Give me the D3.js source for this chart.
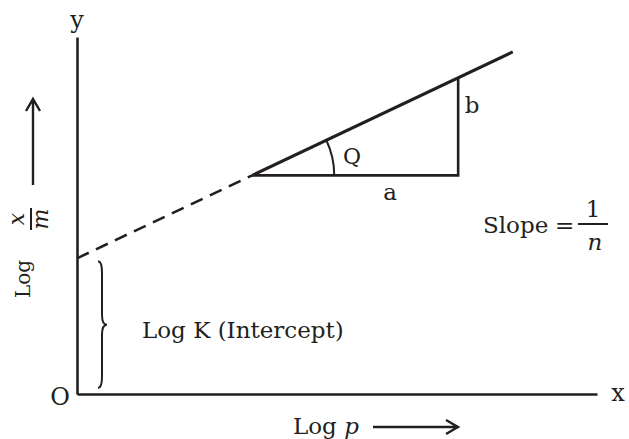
<!DOCTYPE html>
<html>
<head>
<meta charset="utf-8">
<script src="https://cdn.jsdelivr.net/npm/d3@7.9.0/dist/d3.min.js"></script>
<style>
  body { margin: 0; background: #fff; }
  svg { display: block; font-family: "DejaVu Serif", serif; }
  .ink { stroke: #231f20; fill: none; }
  text { fill: #231f20; }
</style>
</head>
<body>
<svg id="chart" width="629" height="439"></svg>
<script>
// Freundlich isotherm: log x/m = log K + (1/n) log p
const xDomain = [0, 100];
const yDomain = [0, 100];
const logK = 38;          // intercept on the y axis
const slope = 0.69;       // 1/n
const dashedX = [0, 33.7];      // extrapolated part
const solidX = [33.7, 83.8];    // measured part
const triangleX = [33.7, 73.3]; // run "a" of the slope triangle

const svg = d3.select('#chart');

const x = d3.scaleLinear().domain(xDomain).range([77, 597]);
const y = d3.scaleLinear().domain(yDomain).range([394, 37]);
const f = v => logK + slope * v;

const line = d3.line().x(d => x(d)).y(d => y(f(d)));

// axes, no ticks
svg.append('g')
  .attr('transform', `translate(0,${y(0)})`)
  .call(d3.axisBottom(x).tickValues([]).tickSizeOuter(0))
  .call(g => g.select('.domain').attr('stroke', '#231f20').attr('stroke-width', 2.6));
svg.append('g')
  .attr('transform', `translate(${x(0)},0)`)
  .call(d3.axisLeft(y).tickValues([]).tickSizeOuter(0))
  .call(g => g.select('.domain').attr('stroke', '#231f20').attr('stroke-width', 2.6));

// fitted line
svg.append('path').attr('class', 'ink')
  .attr('d', line(dashedX))
  .attr('stroke-width', 2.6)
  .attr('stroke-dasharray', '13,8');
svg.append('path').attr('class', 'ink')
  .attr('d', line(solidX))
  .attr('stroke-width', 3);

// slope triangle
const [t0, t1] = triangleX;
svg.append('path').attr('class', 'ink')
  .attr('stroke-width', 2.6)
  .attr('d', `M${x(t0)},${y(f(t0))}H${x(t1)}V${y(f(t1))}`);

// angle arc
const cx = x(t0), cy = y(f(t0));
const ang = Math.atan2(y(f(t0)) - y(f(t1)), x(t1) - x(t0));
const r = 82;
svg.append('path').attr('class', 'ink')
  .attr('stroke-width', 2)
  .attr('d', `M${cx + r},${cy}A${r},${r} 0 0 0 ${cx + r * Math.cos(ang)},${cy - r * Math.sin(ang)}`);

svg.append('text').attr('x', 352).attr('y', 164).attr('text-anchor', 'middle')
  .attr('font-size', 22).text('Q');
svg.append('text').attr('x', (x(t0) + x(t1)) / 2 + 35).attr('y', 200).attr('text-anchor', 'middle')
  .attr('font-size', 23).text('a');
svg.append('text').attr('x', x(t1) + 14).attr('y', 113).attr('text-anchor', 'middle')
  .attr('font-size', 23).text('b');

// brace for the intercept
const bx = x(0) + 21, bt = y(logK) + 3, bb = y(0) - 6, bm = (bt + bb) / 2;
const bracePath = d3.path();
bracePath.moveTo(bx, bt);
bracePath.quadraticCurveTo(bx + 4, bt, bx + 4, bt + 12);
bracePath.lineTo(bx + 4, bm - 10);
bracePath.quadraticCurveTo(bx + 4, bm, bx + 9, bm);
bracePath.quadraticCurveTo(bx + 4, bm, bx + 4, bm + 10);
bracePath.lineTo(bx + 4, bb - 12);
bracePath.quadraticCurveTo(bx + 4, bb, bx, bb);
svg.append('path').attr('class', 'ink')
  .attr('stroke-width', 2)
  .attr('d', bracePath.toString());

svg.append('text').attr('x', 142).attr('y', 338).attr('font-size', 23)
  .text('Log K (Intercept)');

// slope label
const sl = svg.append('g').attr('font-size', 23);
sl.append('text').attr('x', 483).attr('y', 233).text('Slope');
sl.append('text').attr('x', 555).attr('y', 233).text('=');
sl.append('line').attr('class', 'ink').attr('stroke-width', 2)
  .attr('x1', 578).attr('x2', 608).attr('y1', 224).attr('y2', 224);
sl.append('text').attr('x', 593).attr('y', 217).attr('text-anchor', 'middle').text('1');
sl.append('text').attr('x', 595).attr('y', 250).attr('text-anchor', 'middle')
  .attr('font-style', 'italic').text('n');

// axis letters
svg.append('text').attr('x', x(0)).attr('y', 28).attr('text-anchor', 'middle')
  .attr('font-size', 24).text('y');
svg.append('text').attr('x', 618).attr('y', y(0) + 7).attr('text-anchor', 'middle')
  .attr('font-size', 24).text('x');
svg.append('text').attr('x', 60).attr('y', y(0) + 11).attr('text-anchor', 'middle')
  .attr('font-size', 24).text('O');

// arrow helper: open chevron head
function arrow(x1, y1, x2, y2) {
  const a = Math.atan2(y2 - y1, x2 - x1), h = 12, w = 7;
  const bxh = x2 - h * Math.cos(a), byh = y2 - h * Math.sin(a);
  const px = -Math.sin(a) * w, py = Math.cos(a) * w;
  svg.append('path').attr('class', 'ink').attr('stroke-width', 2.4)
    .attr('d', `M${x1},${y1}L${x2},${y2}M${bxh + px},${byh + py}L${x2},${y2}L${bxh - px},${byh - py}`);
}

// x label
svg.append('text').attr('x', 293).attr('y', 434).attr('font-size', 23)
  .html('Log <tspan font-style="italic">p</tspan>');
arrow(373, 427, 458, 427);

// y label, rotated
const yl = svg.append('g').attr('transform', 'translate(30,298) rotate(-90)').attr('font-size', 20);
yl.append('text').attr('x', 0).attr('y', 0).text('Log');
yl.append('text').attr('x', 79).attr('y', -6).attr('text-anchor', 'middle')
  .attr('font-style', 'italic').attr('font-size', 22).text('x');
yl.append('line').attr('class', 'ink').attr('stroke-width', 2)
  .attr('x1', 68).attr('x2', 90).attr('y1', 1).attr('y2', 1);
yl.append('text').attr('x', 79).attr('y', 18).attr('text-anchor', 'middle')
  .attr('font-style', 'italic').attr('font-size', 22).text('m');
arrow(33, 185, 33, 99);
</script>
</body>
</html>
